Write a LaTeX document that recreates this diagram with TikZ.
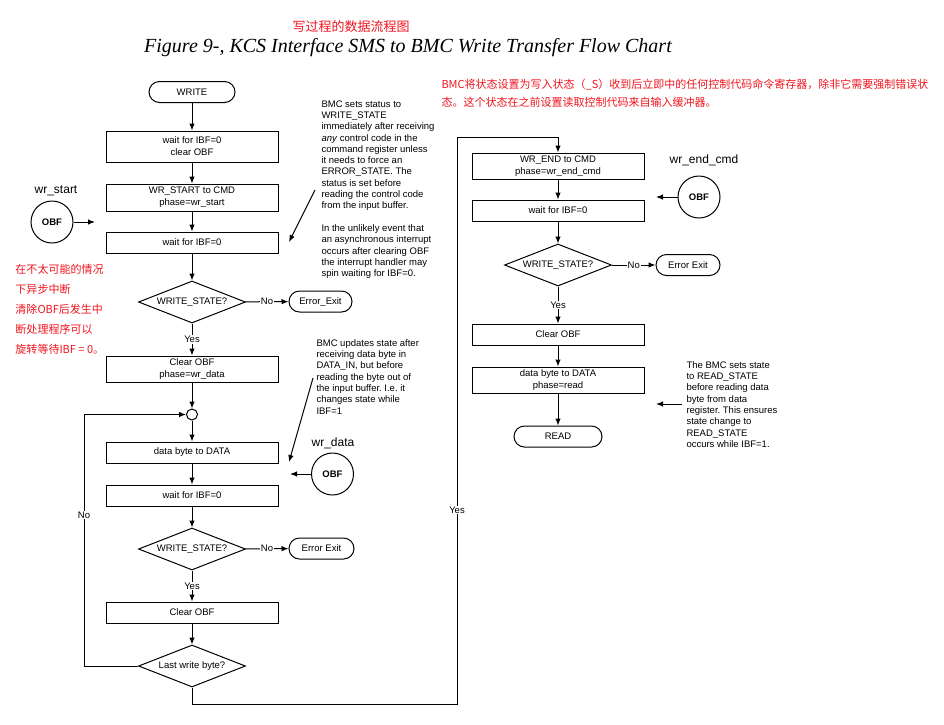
\documentclass[tikz,border=0pt]{standalone}
\usepackage{fontspec}
\setmainfont{Liberation Sans}
\newfontfamily\cjk{Noto Sans CJK SC}
\newfontfamily\titlefont{Liberation Serif}
\usetikzlibrary{arrows.meta, shapes.geometric, math}
\definecolor{nred}{RGB}{240,20,30}
\frenchspacing

\begin{document}
\begin{tikzpicture}[x=1pt, y=-1pt, line width=1pt, >={Latex[length=7pt,width=5.5pt]},
  font=\fontsize{9.5}{12}\selectfont,
  stepbox/.style={draw, minimum width=172pt, minimum height=21pt, inner sep=0pt, align=center},
  term/.style={draw, rounded corners=10.5pt, minimum height=21pt, inner sep=0pt},
  test/.style={diamond, draw, aspect=2.5, minimum width=107pt, minimum height=42pt, inner sep=0pt},
  obf/.style={circle, draw, minimum size=42pt, inner sep=0pt, font=\fontsize{9.5}{12}\selectfont\bfseries},
  phasename/.style={font=\fontsize{12}{14}\selectfont},
  note/.style={anchor=north west, align=left, inner sep=0pt, font=\fontsize{9.5}{11.3}\selectfont},
  lbl/.style={fill=white, inner sep=1pt}]
\tikzmath{
\colL=192;
\colR=558;
}
\useasboundingbox (0,0) rectangle (944,724);

\node[text=nred, font=\cjk\fontsize{13}{15}\selectfont] (cntitle) at (351,27) {写过程的数据流程图};
\node[font=\titlefont\itshape\fontsize{20}{23}\selectfont] (title) at (408,48) {Figure 9-, KCS Interface SMS to BMC Write Transfer Flow Chart};
\node[text=nred, anchor=north west, align=left, inner sep=0pt, font=\cjk\fontsize{11}{18}\selectfont] (cnnote) at (441,79) {BMC将状态设置为写入状态（\_S）收到后立即中的任何控制代码命令寄存器，除非它需要强制错误状\\态。这个状态在之前设置读取控制代码来自输入缓冲器。};
\node[text=nred, anchor=north west, align=left, inner sep=0pt, font=\cjk\fontsize{11}{20}\selectfont] (cnleft) at (15,264) {在不太可能的情况\\下异步中断\\清除OBF后发生中\\断处理程序可以\\旋转等待IBF = 0。};

\node[term, minimum width=86pt] (write) at (\colL,92) {WRITE};
\node[stepbox, minimum height=31pt] (clr1) at (\colL,146.5) {wait for IBF=0\\clear OBF};
\node[stepbox, minimum height=27pt] (wrstart) at (\colL,197.5) {WR\_START to CMD\\phase=wr\_start};
\node[stepbox] (wait1) at (\colL,242.5) {wait for IBF=0};
\node[test] (ws1) at (\colL,302) {WRITE\_STATE?};
\node[term, minimum width=63pt] (err1) at (320.5,301.5) {Error\_Exit};
\node[stepbox, minimum height=26pt] (clr2) at (\colL,369) {Clear OBF\\phase=wr\_data};
\node[circle, draw, minimum size=11pt, inner sep=0pt] (junc) at (\colL,414.5) {};
\node[stepbox] (data1) at (\colL,452.5) {data byte to DATA};
\node[stepbox] (wait2) at (\colL,495.5) {wait for IBF=0};
\node[test] (ws2) at (\colL,549) {WRITE\_STATE?};
\node[term, minimum width=65pt] (err2) at (321.5,548.5) {Error Exit};
\node[stepbox] (clr3) at (\colL,612.5) {Clear OBF};
\node[test] (last) at (\colL,666) {Last write byte?};

\node[stepbox, minimum height=26pt] (wrend) at (\colR,166) {WR\_END to CMD\\phase=wr\_end\_cmd};
\node[stepbox] (wait3) at (\colR,210.5) {wait for IBF=0};
\node[test] (ws3) at (\colR,265) {WRITE\_STATE?};
\node[term, minimum width=64pt] (err3) at (688,265) {Error Exit};
\node[stepbox] (clr4) at (\colR,334.5) {Clear OBF};
\node[stepbox, minimum height=26pt] (data2) at (\colR,380) {data byte to DATA\\phase=read};
\node[term, minimum width=88pt] (read) at (\colR,436.5) {READ};

\draw[->] (write) -- (clr1);
\draw[->] (clr1) -- (wrstart);
\draw[->] (wrstart) -- (wait1);
\draw[->] (wait1) -- (ws1);
\draw[->] (ws1) -- node[lbl] {No} (err1);
\draw[->] (ws1) -- node[lbl] {Yes} (clr2);
\draw[->] (clr2) -- (junc);
\draw[->] (junc) -- (data1);
\draw[->] (data1) -- (wait2);
\draw[->] (wait2) -- (ws2);
\draw[->] (ws2) -- node[lbl] {No} (err2);
\draw[->] (ws2) -- node[lbl] {Yes} (clr3);
\draw[->] (clr3) -- (last);
\draw[->] (last.west) -- ++(-54,0) |- node[lbl, pos=0.3] {No} (junc.west);
\draw[->] (last.south) |- (457,704) -- node[lbl, pos=0.342] {Yes} (457,137) -| (wrend.north);

\draw[->] (wrend) -- (wait3);
\draw[->] (wait3) -- (ws3);
\draw[->] (ws3) -- node[lbl] {No} (err3);
\draw[->] (ws3) -- node[lbl] {Yes} (clr4);
\draw[->] (clr4) -- (data2);
\draw[->] (data2) -- (read);

\node[obf] (obfstart) at (52,222) {OBF};
\node[phasename] (startname) at (56,191) {wr\_start};
\coordinate (startin) at (95,222);
\draw[->] (obfstart) -- (startin);

\node[obf] (obfdata) at (332.5,474) {OBF};
\node[phasename] (dataname) at (333,443) {wr\_data};
\coordinate (datain) at (290,474);
\draw[->] (obfdata) -- (datain);

\node[obf] (obfend) at (699,197) {OBF};
\node[phasename] (endname) at (704,160) {wr\_end\_cmd};
\coordinate (endin) at (656,197);
\draw[->] (obfend) -- (endin);

\node[note] (note1) at (321,100) {BMC sets status to\\WRITE\_STATE\\immediately after receiving\\\textit{any} control code in the\\command register unless\\it needs to force an\\ERROR\_STATE. The\\status is set before\\reading the control code\\from the input buffer.\\[11.3pt]In the unlikely event that\\an asynchronous interrupt\\occurs after clearing OBF\\the interrupt handler may\\spin waiting for IBF=0.};
\coordinate (note1from) at (315,190);
\coordinate (note1to) at (289,242);
\draw[->] (note1from) -- (note1to);

\node[note] (note2) at (316,339) {BMC updates state after\\receiving data byte in\\DATA\_IN, but before\\reading the byte out of\\the input buffer. I.e. it\\changes state while\\IBF=1};
\coordinate (note2from) at (313,378);
\coordinate (note2to) at (289,462);
\draw[->] (note2from) -- (note2to);

\node[note] (note3) at (686,361) {The BMC sets state\\to READ\_STATE\\before reading data\\byte from data\\register. This ensures\\state change to\\READ\_STATE\\occurs while IBF=1.};
\coordinate (note3from) at (682,404);
\coordinate (note3to) at (656,404);
\draw[->] (note3from) -- (note3to);

\end{tikzpicture}
\end{document}
